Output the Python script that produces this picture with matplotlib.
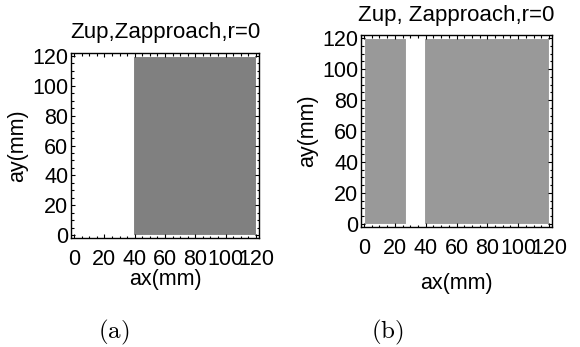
import matplotlib
matplotlib.use("Agg")
import matplotlib.pyplot as plt
from matplotlib.ticker import MultipleLocator

# Data
titles = ["Zup,Zapproach,r=0", "Zup, Zapproach,r=0"]
captions = ["(a)", "(b)"]
# feasible x-intervals (start, end) in mm, spanning ay from 0 to 120
regions_a = [(39, 120)]
regions_b = [(0, 27), (39, 120)]
y_range = (0, 120)
colors = ["#808080", "#999999"]
xticks = [0, 20, 40, 60, 80, 100, 120]
yticks = [0, 20, 40, 60, 80, 100, 120]

plt.rcParams['font.family'] = ['Liberation Sans', 'DejaVu Sans']
plt.rcParams['mathtext.fontset'] = 'cm'

fig = plt.figure(figsize=(5.8, 3.47), dpi=100)
axa = fig.add_axes([71/580, 1-238/347, 188/580, 185/347])
axb = fig.add_axes([361/580, 1-227/347, 191/580, 192/347])

for ax, regs, col, title, xlp, tpad in [(axa, regions_a, colors[0], titles[0], -1, 11),
                                        (axb, regions_b, colors[1], titles[1], 10, 10)]:
    for (x0, x1) in regs:
        ax.bar(x0, y_range[1]-y_range[0], width=x1-x0, bottom=y_range[0],
               align='edge', color=col, edgecolor='white', linewidth=0.8)
    ax.set_xlim(-2, 122)
    ax.set_ylim(-2, 122)
    ax.set_xticks(xticks)
    ax.set_yticks(yticks)
    ax.xaxis.set_minor_locator(MultipleLocator(5))
    ax.yaxis.set_minor_locator(MultipleLocator(5))
    ax.tick_params(which='both', direction='in', top=True, right=True,
                   labelsize=15.5, width=0.8)
    ax.tick_params(which='major', length=3)
    ax.tick_params(which='minor', length=1.8)
    ax.tick_params(axis='x', pad=8)
    ax.tick_params(axis='y', pad=2)
    for s in ax.spines.values():
        s.set_linewidth(1.0)
    ax.set_title(title, fontsize=16, pad=tpad)
    ax.set_xlabel("ax(mm)", fontsize=15.5, labelpad=xlp)
    ax.set_ylabel("ay(mm)", fontsize=15.5, labelpad=3)

fig.text(114/580, 1-332/347, r'$\mathrm{(a)}$', ha='center', va='center',
         fontsize=18)
fig.text(387/580, 1-332/347, r'$\mathrm{(b)}$', ha='center', va='center',
         fontsize=18)

fig.savefig("out.png", dpi=100)
